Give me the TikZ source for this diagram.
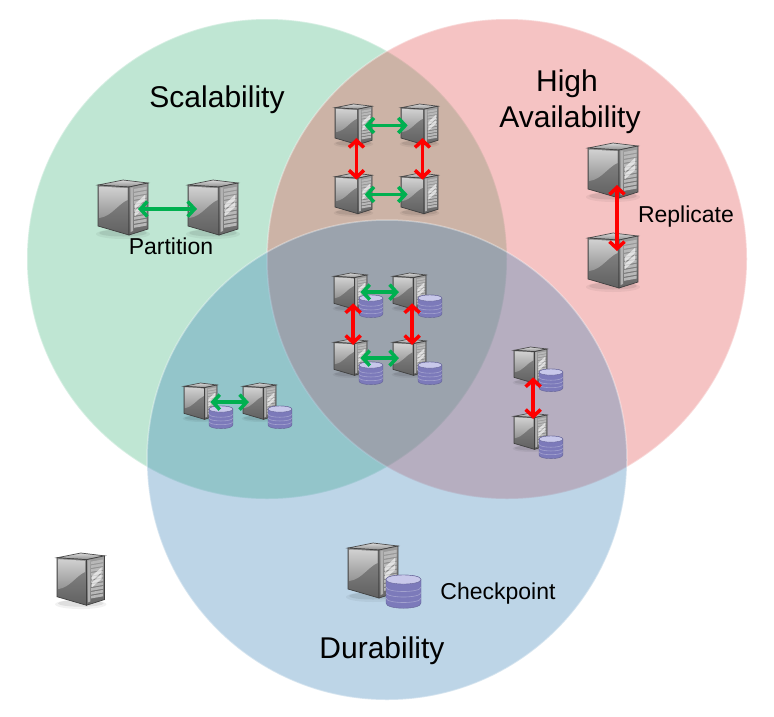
\documentclass[tikz,border=0pt]{standalone}
\usepackage{fontspec}
\setmainfont{Liberation Sans}
\usetikzlibrary{arrows.meta}
\definecolor{cgreen}{RGB}{72,184,130}
\definecolor{cred}{RGB}{229,84,84}
\definecolor{cblue}{RGB}{66,136,188}
\definecolor{agreen}{RGB}{0,176,80}
\definecolor{ared}{RGB}{255,0,0}
\definecolor{cdbd}{RGB}{124,122,186}
\definecolor{cdbl}{RGB}{190,190,228}
\definecolor{cdbt}{RGB}{200,200,234}
\tikzset{
  venn/.style={fill=#1,fill opacity=.35,draw=white,draw opacity=.35,line width=1.5pt},
  linkg/.style={draw=agreen,line width=3.5pt,{Straight Barb[length=7pt,width=15pt]}-{Straight Barb[length=7pt,width=15pt]}},
  linkr/.style={draw=ared,line width=3.5pt,{Straight Barb[length=7pt,width=15pt]}-{Straight Barb[length=7pt,width=15pt]}},
  small/.style={font=\fontsize{23}{26}\selectfont,inner sep=0pt,anchor=base,text=black},
  big/.style={font=\fontsize{30}{36}\selectfont,inner sep=0pt,anchor=base,text=black},
  server/.pic={
    \fill[black,opacity=.05] (25,54) ellipse [x radius=27,y radius=5];
    \fill[black,opacity=.08] (25,53) ellipse [x radius=24,y radius=3.5];
    \path[draw=black!70,line width=.7pt,top color=black!15,bottom color=black!45] (0,5) -- (25,0) -- (50,3) -- (31,7) -- cycle;
    \path[draw=black!75,line width=.7pt,top color=black!45,bottom color=black!62] (0,5) -- (31,7) -- (31,55) -- (0,46) -- cycle;
    \path[top color=black!18,bottom color=black!42] (1.5,6.5) -- (29.5,8.2) -- (29.5,20) .. controls (20,24) and (14,36) .. (1.5,38) -- cycle;
    \path[draw=black!75,line width=.7pt,top color=black!38,bottom color=black!60] (31,7) -- (50,3) -- (50,49) -- (31,55) -- cycle;
    \foreach \yy in {0,...,9}{
      \fill[black!28] (36,9+4*\yy) -- (48.5,6.8+4*\yy) -- (48.5,9.6+4*\yy) -- (36,11.8+4*\yy) -- cycle;
    }
    \fill[black!30] (32.5,8) -- (35,7.5) -- (35,51) -- (32.5,52) -- cycle;
    \fill[white,opacity=.6] (37,24) -- (47,15) -- (47,20) -- (37,29) -- cycle;
    \fill[white,opacity=.6] (37,31) -- (47,22) -- (47,27) -- (37,36) -- cycle;
    \coordinate (-e) at (40,29);
    \coordinate (-w) at (9,29);
    \coordinate (-s) at (29,46);
    \coordinate (-n) at (29,9);
  },
  dbstack/.pic={
    \path[draw=cdbd!80!black,line width=.4pt,left color=cdbd,middle color=cdbl,right color=cdbd]
      (0,4.5) -- (0,28) .. controls (0,35) and (35,35) .. (35,28) -- (35,4.5) .. controls (35,-1.5) and (0,-1.5) .. (0,4.5) -- cycle;
    \foreach \yy in {12,17.5,23}{
      \draw[white,opacity=.3,line width=.6pt] (0,\yy) .. controls (0,\yy+6) and (35,\yy+6) .. (35,\yy);
    }
    \path[draw=cdbd!80!black,line width=.4pt,fill=cdbt] (0,4.5) .. controls (0,10.5) and (35,10.5) .. (35,4.5) .. controls (35,-1.5) and (0,-1.5) .. (0,4.5) -- cycle;
  }
}
\begin{document}
\begin{tikzpicture}[x=1pt,y=-1pt]
\useasboundingbox (0,0) rectangle (774,716);
\fill[white] (0,0) rectangle (774,716);
% Venn circles
\path[venn=cgreen] (267,259) circle [radius=240];
\path[venn=cred] (507,259) circle [radius=240];
\path[venn=cblue] (387,460) circle [radius=240];
% Scalability only
\pic (pa) at (98,180) {server};
\pic (pb) at (188,180) {server};
% High availability only
\pic (ra) at (588,143) {server};
\pic (rb) at (588,233) {server};
% Scalability + availability
\pic[scale=.74] (qa) at (335,104) {server};
\pic[scale=.74] (qb) at (401,104) {server};
\pic[scale=.74] (qc) at (335,173) {server};
\pic[scale=.74] (qd) at (401,173) {server};
% All three
\pic[scale=.66] (ta) at (334,273) {server};
\pic[scale=.66] (tb) at (393,273) {server};
\pic[scale=.66] (tc) at (334,339) {server};
\pic[scale=.66] (td) at (393,339) {server};
\pic[scale=.68] (tda) at (359,295) {dbstack};
\pic[scale=.68] (tdb) at (418,295) {dbstack};
\pic[scale=.68] (tdc) at (359,362) {dbstack};
\pic[scale=.68] (tdd) at (418,362) {dbstack};
% Scalability + durability
\pic[scale=.66] (ua) at (184,383) {server};
\pic[scale=.66] (ub) at (243,383) {server};
\pic[scale=.68] (uda) at (209,406) {dbstack};
\pic[scale=.68] (udb) at (268,406) {dbstack};
% Availability + durability
\pic[scale=.66] (va) at (514,347) {server};
\pic[scale=.66] (vb) at (514,413) {server};
\pic[scale=.68] (vda) at (539,369) {dbstack};
\pic[scale=.68] (vdb) at (539,436) {dbstack};
% Durability only
\pic (da) at (348,543) {server};
\pic (dd) at (386,575) {dbstack};
% None
\pic[scale=.95] (za) at (57,553) {server};
% Connectors
\draw[linkg] (pa-e) -- (pb-w);
\draw[linkr,shorten <=-4pt,shorten >=-9pt] (ra-s) -- (rb-n);
\draw[linkg] (qa-e) -- (qb-w);
\draw[linkg] (qc-e) -- (qd-w);
\draw[linkr] (qa-s) -- (qc-n);
\draw[linkr] (qb-s) -- (qd-n);
\draw[linkg] (ta-e) -- (tb-w);
\draw[linkg] (tc-e) -- (td-w);
\draw[linkr] (ta-s) -- (tc-n);
\draw[linkr] (tb-s) -- (td-n);
\draw[linkg] (ua-e) -- (ub-w);
\draw[linkr] (va-s) -- (vb-n);
% Labels
\node[big] (lscal) at (217,107) {Scalability};
\node[big] (lhigh) at (567,91) {High};
\node[big] (lavail) at (570,127) {Availability};
\node[big] (ldur) at (382,658) {Durability};
\node[small] (lpart) at (171,254) {Partition};
\node[small] (lrepl) at (686,222) {Replicate};
\node[small] (lcheck) at (498,599) {Checkpoint};
\end{tikzpicture}
\end{document}
